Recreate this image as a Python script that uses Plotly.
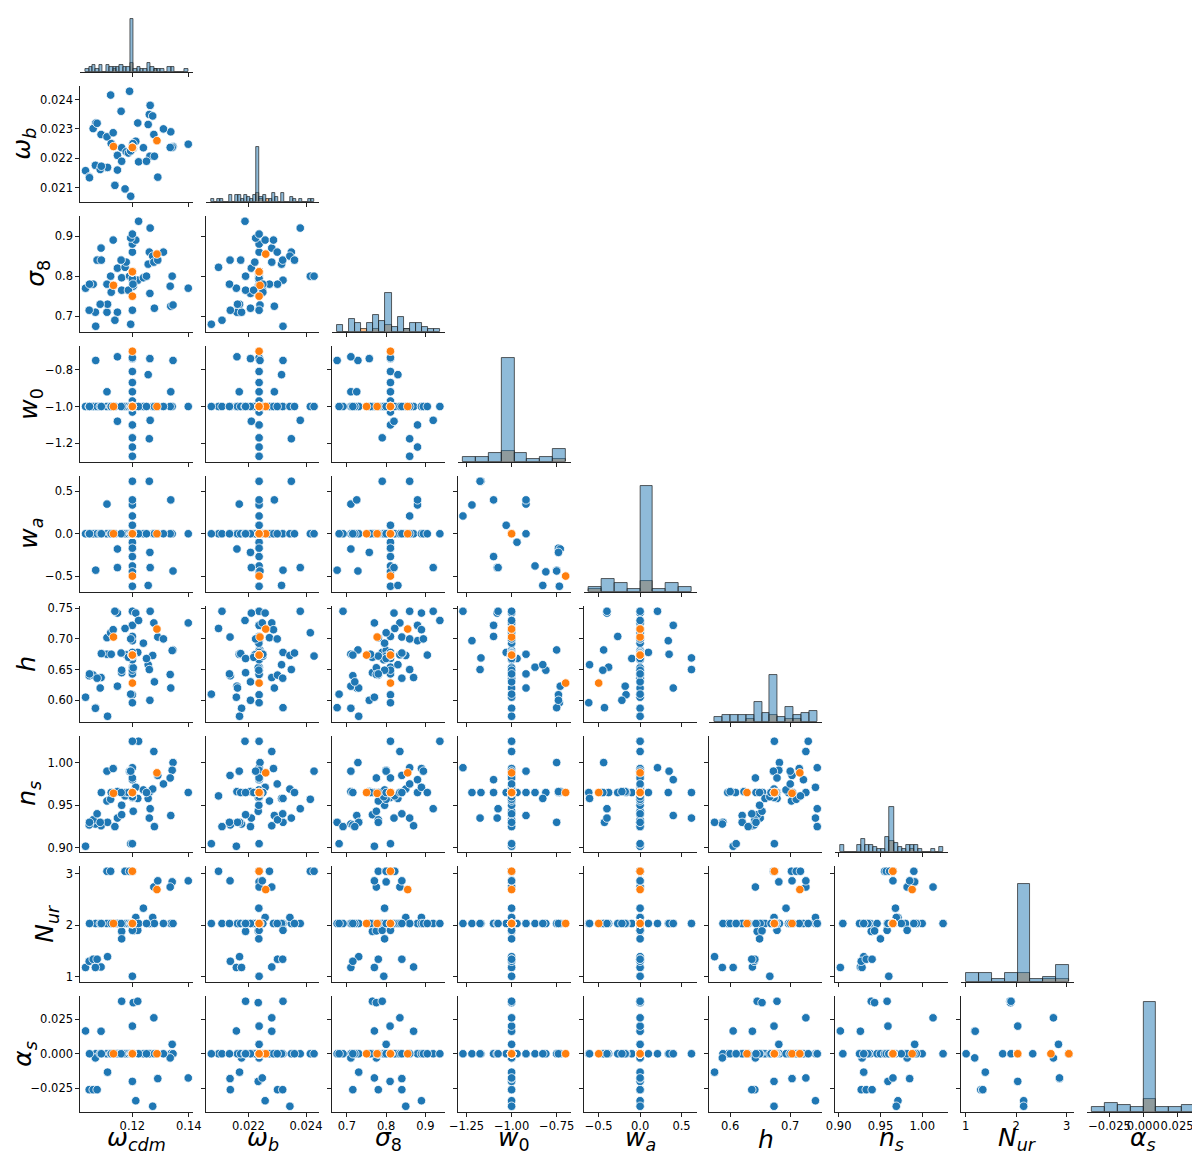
import numpy as np
import plotly.graph_objects as go

# ---------------- data (blue "sample" points, orange "highlight" points) ----------------
sample_omega_cdm = [
    0.1200, 0.1200, 0.1200, 0.1200, 0.1200, 0.1200, 0.1200, 0.1200, 0.1200, 0.1200, 0.1200, 0.1200,
    0.1110, 0.1336, 0.1070, 0.1344, 0.1147, 0.1147, 0.1262, 0.1256, 0.1263, 0.1260,
    0.1162, 0.1203, 0.1219, 0.1034, 0.1089, 0.1069, 0.1112, 0.1047, 0.1061, 0.1075,
    0.1200, 0.1200, 0.1212, 0.1272, 0.1276, 0.1341, 0.1334, 0.1290, 0.1398,
    0.1162, 0.1239, 0.1110, 0.1123, 0.1174, 0.1190, 0.1200, 0.1200, 0.1200,
    0.1086, 0.1090, 0.1132, 0.1138, 0.1178, 0.1186, 0.1194, 0.1194, 0.1202, 0.1222,
    0.1278, 0.1200, 0.1200, 0.1200, 0.1200, 0.1048, 0.1310, 0.1160, 0.1250, 0.1125]
sample_omega_b = [
    0.02237, 0.02237, 0.02237, 0.02237, 0.02237, 0.02237, 0.02237, 0.02237, 0.02237, 0.02237, 0.02237, 0.02237,
    0.02168, 0.02290, 0.02320, 0.02240, 0.02160, 0.02210, 0.02207, 0.02315, 0.02380, 0.02349,
    0.02190, 0.02234, 0.02320, 0.02158, 0.02281, 0.02176, 0.02169, 0.02137, 0.02301, 0.02319,
    0.02237, 0.02234, 0.02258, 0.02344, 0.02281, 0.02237, 0.02237, 0.02136, 0.02248,
    0.02236, 0.02236, 0.02273, 0.02415, 0.02096, 0.02428, 0.02237, 0.02237, 0.02237,
    0.02162, 0.02173, 0.02287, 0.02108, 0.02222, 0.02218, 0.02225, 0.02071, 0.02250, 0.02188,
    0.02207, 0.02237, 0.02237, 0.02237, 0.02237, 0.02134, 0.02300, 0.02360, 0.02190, 0.02250]
sample_sigma8 = [
    0.860, 0.880, 0.790, 0.880, 0.811, 0.811, 0.811, 0.811, 0.811, 0.811, 0.811, 0.811,
    0.710, 0.725, 0.675, 0.728, 0.710, 0.820, 0.757, 0.830, 0.920, 0.860,
    0.765, 0.775, 0.790, 0.770, 0.870, 0.710, 0.730, 0.715, 0.780, 0.840,
    0.810, 0.810, 0.890, 0.850, 0.835, 0.800, 0.775, 0.840, 0.770,
    0.796, 0.796, 0.780, 0.800, 0.822, 0.800, 0.794, 0.811, 0.811,
    0.730, 0.840, 0.890, 0.690, 0.835, 0.765, 0.895, 0.680, 0.780, 0.937,
    0.720, 0.811, 0.811, 0.905, 0.715, 0.780, 0.860, 0.840, 0.800, 0.760]
sample_w0 = [
    -1.270, -1.220, -1.170, -1.100, -1.100, -1.030, -0.970, -0.920, -0.870, -0.810, -0.740, -0.735,
    -0.920, -0.920, -0.750, -0.750, -0.730, -1.080, -0.740, -0.827, -1.075, -1.175,
    -1.0, -1.0, -1.0, -1.0, -1.0, -1.0, -1.0, -1.0, -1.0, -1.0,
    -1.0, -1.0, -1.0, -1.0, -1.0, -1.0, -1.0, -1.0, -1.0,
    -1.0, -1.0, -1.0, -1.0, -1.0, -1.0, -1.0, -1.0, -1.0,
    -1.0, -1.0, -1.0, -1.0, -1.0, -1.0, -1.0, -1.0, -1.0, -1.0,
    -1.0, -1.0, -1.0, -1.0, -1.0, -1.0, -1.0, -1.0, -1.0, -1.0]
sample_wa = [
    0.21, 0.34, 0.62, 0.40, -0.27, 0.10, -0.10, 0.00, -0.38, -0.45, -0.17, -0.62,
    0.35, 0.40, -0.43, -0.44, -0.18, -0.40, -0.22, -0.61, -0.40, 0.62,
    0.0, 0.0, 0.0, 0.0, 0.0, 0.0, 0.0, 0.0, 0.0, 0.0,
    0.0, 0.0, 0.0, 0.0, 0.0, 0.0, 0.0, 0.0, 0.0,
    0.0, 0.0, 0.0, 0.0, 0.0, 0.0, 0.0, 0.0, 0.0,
    0.0, 0.0, 0.0, 0.0, 0.0, 0.0, 0.0, 0.0, 0.0, 0.0,
    0.0, 0.0, 0.0, 0.0, 0.0, 0.0, 0.0, 0.0, 0.0, 0.0]
sample_h = [
    0.745, 0.697, 0.669, 0.722, 0.704, 0.678, 0.668, 0.643, 0.654, 0.649, 0.609, 0.596,
    0.675, 0.620, 0.588, 0.682, 0.623, 0.742, 0.600, 0.658, 0.745, 0.650,
    0.645, 0.653, 0.678, 0.605, 0.637, 0.587, 0.574, 0.640, 0.641, 0.636,
    0.673, 0.673, 0.742, 0.673, 0.726, 0.681, 0.642, 0.703, 0.726,
    0.649, 0.693, 0.702, 0.710, 0.717, 0.672, 0.666, 0.678, 0.6736,
    0.620, 0.676, 0.715, 0.745, 0.674, 0.670, 0.700, 0.610, 0.672, 0.730,
    0.630, 0.6736, 0.6736, 0.6736, 0.6736, 0.643, 0.700, 0.677, 0.668, 0.675]
sample_n_s = [
    0.994, 0.9649, 0.9649, 0.980, 0.9649, 0.9649, 0.9649, 0.965, 0.9649, 0.9649, 0.9649, 0.9649,
    0.990, 0.938, 0.930, 1.000, 0.966, 0.935, 0.966, 0.958, 0.946, 0.935,
    0.939, 0.943, 0.958, 0.902, 0.926, 0.928, 0.930, 0.927, 0.933, 0.940,
    0.959, 0.959, 0.971, 0.969, 1.013, 0.991, 0.982, 0.985, 0.965,
    0.950, 0.968, 0.955, 0.957, 0.961, 0.990, 0.960, 0.982, 0.9649,
    0.930, 0.9649, 0.993, 0.925, 0.9649, 0.9649, 0.990, 0.905, 0.9649, 1.025,
    0.925, 1.025, 0.905, 0.9649, 0.9649, 0.930, 0.975, 0.9649, 0.9649, 0.9649]
sample_N_ur = [
    2.0328, 2.0328, 2.0328, 2.0328, 2.0328, 2.0328, 2.0328, 2.0328, 2.0328, 2.0328, 2.0328, 2.0328,
    2.0328, 2.0328, 2.0328, 2.0328, 2.0328, 2.0328, 2.0328, 2.0328, 2.0328, 2.0328,
    1.88, 1.89, 1.90, 1.18, 1.19, 1.18, 1.39, 1.30, 1.34, 1.34,
    2.0328, 2.0328, 2.15, 2.15, 2.74, 2.84, 2.74, 2.86, 2.86,
    1.735, 2.33, 3.046, 3.046, 3.046, 3.046, 1.01, 1.90, 3.046,
    2.0328, 2.0328, 2.0328, 2.0328, 2.0328, 2.0328, 2.0328, 2.0328, 2.0328, 2.0328,
    2.0328, 2.0328, 2.0328, 2.0328, 2.0328, 2.0328, 2.0328, 2.0328, 2.0328, 2.0328]
sample_alpha_s = [
    0.0, 0.0, 0.0, 0.0, 0.0, 0.0, 0.0, 0.0, 0.0, 0.0, 0.0, 0.0,
    0.0, 0.0, 0.0, 0.0, 0.0, 0.0, 0.0, 0.0, 0.0, 0.0,
    0.038, 0.037, 0.038, 0.0165, 0.0163, -0.003, -0.0133, -0.026, -0.026, -0.026,
    0.020, -0.020, -0.034, -0.038, 0.026, 0.0068, -0.003, -0.018, -0.0175,
    0.0, 0.0, 0.0, 0.0, 0.0, 0.0, 0.0, 0.0, 0.0,
    0.0, 0.0, 0.0, 0.0, 0.0, 0.0, 0.0, 0.0, 0.0, 0.0,
    0.0, 0.0, 0.0, 0.0, 0.0, 0.0, 0.0, 0.0, 0.0, 0.0]

highlight_omega_cdm = [0.1200, 0.1133, 0.1287, 0.1200, 0.1200, 0.1200]
highlight_omega_b = [0.02237, 0.02240, 0.02260, 0.02237, 0.02237, 0.02237]
highlight_sigma8 = [0.811, 0.777, 0.855, 0.811, 0.811, 0.750]
highlight_w0 = [-1.0, -1.0, -1.0, -0.70, -1.0, -1.0]
highlight_wa = [0.0, 0.0, 0.0, -0.50, 0.0, 0.0]
highlight_h = [0.6736, 0.703, 0.716, 0.628, 0.6736, 0.6736]
highlight_n_s = [0.9649, 0.964, 0.988, 0.9649, 0.9649, 0.9649]
highlight_N_ur = [2.0328, 2.0328, 2.69, 2.0328, 3.046, 2.0328]
highlight_alpha_s = [0.0, 0.0, 0.0, 0.0, 0.0, 0.0]

axis_labels = ["<i>ω<sub>cdm</sub></i>", "<i>ω<sub>b</sub></i>", "<i>σ</i><sub>8</sub>",
               "<i>w</i><sub>0</sub>", "<i>w<sub>a</sub></i>", "<i>h</i>",
               "<i>n<sub>s</sub></i>", "<i>N<sub>ur</sub></i>", "<i>α<sub>s</sub></i>"]

x_tickvals = [[0.12, 0.14], [0.022, 0.024], [0.7, 0.8, 0.9], [-1.25, -1.0, -0.75], [-0.5, 0.0, 0.5],
              [0.6, 0.7], [0.90, 0.95, 1.00], [1, 2, 3], [-0.025, 0.0, 0.025]]
x_ticktext = [["0.12", "0.14"], ["0.022", "0.024"], ["0.7", "0.8", "0.9"], ["−1.25", "−1.00", "−0.75"],
              ["−0.5", "0.0", "0.5"], ["0.6", "0.7"], ["0.90", "0.95", "1.00"], ["1", "2", "3"],
              ["−0.025", "0.000", "0.025"]]
y_tickvals = [[], [0.021, 0.022, 0.023, 0.024], [0.7, 0.8, 0.9], [-1.2, -1.0, -0.8], [-0.5, 0.0, 0.5],
              [0.60, 0.65, 0.70, 0.75], [0.90, 0.95, 1.00], [1, 2, 3], [-0.025, 0.0, 0.025]]
y_ticktext = [[], ["0.021", "0.022", "0.023", "0.024"], ["0.7", "0.8", "0.9"], ["−1.2", "−1.0", "−0.8"],
              ["−0.5", "0.0", "0.5"], ["0.60", "0.65", "0.70", "0.75"], ["0.90", "0.95", "1.00"],
              ["1", "2", "3"], ["−0.025", "0.000", "0.025"]]

# number of histogram bins per variable (as drawn in the reference)
hist_bins = [30, 34, 17, 8, 8, 13, 25, 8, 8]

# y-label horizontal centres (page px) per row, as in the reference
ylabel_x = [None, 23, 37, 30, 30, 27, 28, 46, 24]

# ---------------- layout geometry (page pixels) ----------------
PAGE_W, PAGE_H = 1200, 1155
OFF = 8                       # default body margin of the html page
W, H = PAGE_W - OFF, PAGE_H - OFF
COL_X0, COL_STEP, COL_W = 80.4, 125.8, 113.0
ROW_Y0, ROW_STEP, ROW_H = -44.0, 130.0, 115.5

BLUE = "#1f77b4"
ORANGE = "#ff7f0e"
AX = "#222222"

sample = [sample_omega_cdm, sample_omega_b, sample_sigma8, sample_w0, sample_wa,
          sample_h, sample_n_s, sample_N_ur, sample_alpha_s]
highlight = [highlight_omega_cdm, highlight_omega_b, highlight_sigma8, highlight_w0, highlight_wa,
             highlight_h, highlight_n_s, highlight_N_ur, highlight_alpha_s]
NV = len(sample)


def px_x(p):
    return (p - OFF) / W


def px_y(p):
    return 1 - (p - OFF) / H


def xdom(j):
    left = COL_X0 + COL_STEP * j
    return [max(px_x(left), 0.0), min(px_x(left + COL_W), 1.0)]


def ydom(i):
    top = ROW_Y0 + ROW_STEP * i
    bot = top + ROW_H
    return [px_y(bot), min(px_y(top), 1.0)]


alldata = [np.array(s + h, dtype=float) for s, h in zip(sample, highlight)]
ranges = []
for v in alldata:
    lo, hi = v.min(), v.max()
    pad = 0.05 * (hi - lo)
    ranges.append([lo - pad, hi + pad])

edges = [np.linspace(v.min(), v.max(), nb + 1) for v, nb in zip(alldata, hist_bins)]
counts_s = [np.histogram(np.array(s), bins=e)[0] for s, e in zip(sample, edges)]
counts_h = [np.histogram(np.array(h), bins=e)[0] for h, e in zip(highlight, edges)]
maxcount = max(max(c.max() for c in counts_s), max(c.max() for c in counts_h))
ymax = maxcount * 1.05

fig = go.Figure()
layout = {}
annotations = []
k = 0
for i in range(NV):
    for j in range(i + 1):
        k += 1
        xname = "x" if k == 1 else f"x{k}"
        yname = "y" if k == 1 else f"y{k}"
        xkey = "xaxis" if k == 1 else f"xaxis{k}"
        ykey = "yaxis" if k == 1 else f"yaxis{k}"
        if i == j:
            e = edges[i]
            centers = 0.5 * (e[:-1] + e[1:])
            widths = np.diff(e)
            for cnt, fill in ((counts_h[i], "rgba(255,127,14,0.5)"), (counts_s[i], "rgba(31,119,180,0.5)")):
                fig.add_trace(go.Bar(
                    x=centers, y=cnt, width=widths, xaxis=xname, yaxis=yname, showlegend=False,
                    marker=dict(color=fill, line=dict(color="rgba(35,35,35,0.8)", width=0.9))))
        else:
            fig.add_trace(go.Scatter(
                x=sample[j], y=sample[i], mode="markers", xaxis=xname, yaxis=yname, showlegend=False,
                marker=dict(size=8.5, color=BLUE, line=dict(color="white", width=0.8))))
            fig.add_trace(go.Scatter(
                x=highlight[j], y=highlight[i], mode="markers", xaxis=xname, yaxis=yname, showlegend=False,
                marker=dict(size=8.5, color=ORANGE, line=dict(color="white", width=0.8))))

        layout[xkey] = dict(
            domain=xdom(j), anchor=yname, range=ranges[j], automargin=False,
            tickmode="array", tickvals=x_tickvals[j], ticktext=x_ticktext[j],
            showticklabels=(i == NV - 1), ticks="outside", ticklen=4, tickwidth=0.9, tickcolor=AX,
            tickangle=0, showline=True, linecolor=AX, linewidth=1.1, showgrid=False, zeroline=False,
            tickfont=dict(size=11.5, color="black"))
        if i == j:
            yr = [0, ymax]
            if i == 0:
                visible = ROW_H + ROW_Y0 - OFF
                yr = [0, ymax * visible / ROW_H]
            layout[ykey] = dict(domain=ydom(i), anchor=xname, range=yr, showticklabels=False, automargin=False,
                                ticks="", showline=False, showgrid=False, zeroline=False)
        else:
            layout[ykey] = dict(
                domain=ydom(i), anchor=xname, range=ranges[i], automargin=False,
                tickmode="array", tickvals=y_tickvals[i], ticktext=y_ticktext[i],
                showticklabels=(j == 0), ticks="outside", ticklen=4, tickwidth=0.9, tickcolor=AX,
                showline=True, linecolor=AX, linewidth=1.1, showgrid=False, zeroline=False,
                tickfont=dict(size=11.5, color="black"))

# axis labels
for j in range(NV):
    cx = COL_X0 + COL_STEP * j + COL_W / 2
    annotations.append(dict(text=axis_labels[j], x=px_x(cx), y=px_y(1139), xref="paper", yref="paper",
                            xanchor="center", yanchor="middle", showarrow=False,
                            font=dict(size=25, family="DejaVu Sans", color="black")))
for i in range(1, NV):
    cy = ROW_Y0 + ROW_STEP * i + ROW_H / 2
    annotations.append(dict(text=axis_labels[i], x=px_x(ylabel_x[i]), y=px_y(cy), xref="paper", yref="paper",
                            xanchor="center", yanchor="middle", showarrow=False, textangle=-90,
                            font=dict(size=25, family="DejaVu Sans", color="black")))

fig.update_layout(
    width=W, height=H, margin=dict(l=0, r=0, t=0, b=0, autoexpand=False),
    plot_bgcolor="white", paper_bgcolor="white",
    barmode="overlay", bargap=0, showlegend=False,
    font=dict(family="DejaVu Sans", size=11.5, color="black"),
    annotations=annotations, **layout)

fig.write_html("out.html")
